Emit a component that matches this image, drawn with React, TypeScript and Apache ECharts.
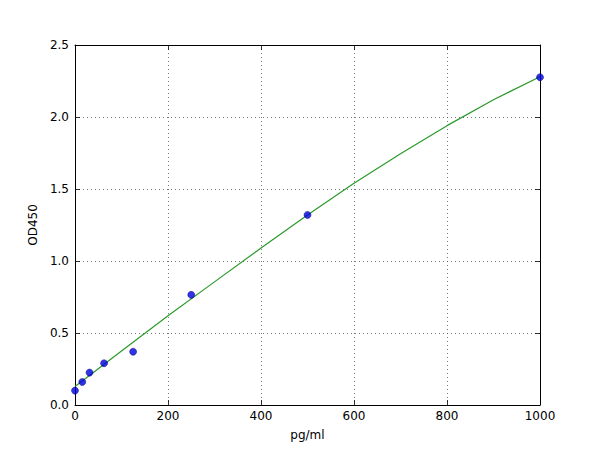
import * as echarts from 'echarts';
import { useEffect, useRef } from 'react';

// 标准点 (浓度 pg/ml, OD450)
const stdConc = [0, 15.6, 31.25, 62.5, 125, 250, 500, 1000];
const stdOd = [0.1, 0.16, 0.225, 0.29, 0.37, 0.765, 1.32, 2.276];

// 拟合曲线
const fitConc = [0, 100, 200, 300, 400, 500, 600, 700, 800, 900, 1000];
const fitOd = [0.128, 0.375, 0.62, 0.855, 1.09, 1.32, 1.54, 1.745, 1.94, 2.12, 2.28];

const xTicks = [0, 200, 400, 600, 800, 1000];
const yTicks = [0, 0.5, 1.0, 1.5, 2.0, 2.5];

const FONT = 'DejaVu Sans';

export default function App() {
  const chartRef = useRef<HTMLDivElement>(null);

  useEffect(() => {
    if (!chartRef.current) return;
    const chart = echarts.init(chartRef.current, undefined, { renderer: 'svg' });

    const gridLine = { show: true, lineStyle: { color: '#555', type: [1, 3] as number[], width: 0.8 } };
    const frameLine = { show: true, onZero: false, lineStyle: { color: '#000', width: 1 } };
    const tick = { show: true, inside: true, length: 5, lineStyle: { color: '#000', width: 0.8 } };

    chart.setOption({
      animation: false,
      backgroundColor: '#fff',
      textStyle: { fontFamily: FONT },
      grid: { left: 75, right: 60, top: 45, bottom: 45 },
      xAxis: [
        {
          type: 'value',
          min: 0,
          max: 1000,
          interval: 200,
          name: 'pg/ml',
          nameLocation: 'middle',
          nameGap: 24,
          nameTextStyle: { color: '#000', fontSize: 12, fontFamily: FONT },
          axisLine: frameLine,
          axisTick: tick,
          axisLabel: { color: '#000', fontSize: 12, fontFamily: FONT, margin: 5, formatter: (v: number) => (xTicks.includes(v) ? String(v) : '') },
          splitLine: gridLine,
        },
        {
          type: 'value',
          position: 'top',
          min: 0,
          max: 1000,
          interval: 200,
          axisLine: frameLine,
          axisTick: tick,
          axisLabel: { show: false },
          splitLine: { show: false },
        },
      ],
      yAxis: [
        {
          type: 'value',
          min: 0,
          max: 2.5,
          interval: 0.5,
          name: 'OD450',
          nameLocation: 'middle',
          nameGap: 29,
          nameTextStyle: { color: '#000', fontSize: 12, fontFamily: FONT },
          axisLine: frameLine,
          axisTick: tick,
          axisLabel: {
            color: '#000',
            fontSize: 12,
            fontFamily: FONT,
            margin: 6,
            formatter: (v: number) => (yTicks.includes(v) ? v.toFixed(1) : ''),
          },
          splitLine: gridLine,
        },
        {
          type: 'value',
          position: 'right',
          min: 0,
          max: 2.5,
          interval: 0.5,
          axisLine: frameLine,
          axisTick: tick,
          axisLabel: { show: false },
          splitLine: { show: false },
        },
      ],
      series: [
        {
          name: 'fit',
          type: 'line',
          data: fitConc.map((c, i) => [c, fitOd[i]]),
          smooth: false,
          showSymbol: false,
          lineStyle: { color: '#2a9a2a', width: 1.2 },
          silent: true,
          z: 2,
        },
        {
          name: 'std',
          type: 'scatter',
          data: stdConc.map((c, i) => [c, stdOd[i]]),
          symbol: 'circle',
          symbolSize: 7,
          itemStyle: { color: '#0000e0', borderColor: '#00007a', borderWidth: 0.6 },
          z: 3,
        },
      ],
    });

    return () => chart.dispose();
  }, []);

  return (
    <div
      ref={chartRef}
      style={{ position: 'fixed', left: 0, top: 0, width: 600, height: 450 }}
    />
  );
}
